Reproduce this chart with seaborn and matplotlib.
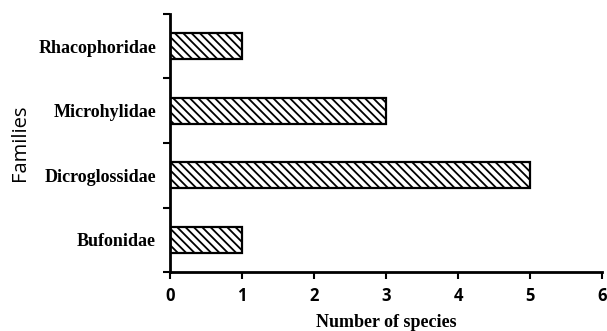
import numpy as np
import pandas as pd
import matplotlib
matplotlib.use("Agg")
import matplotlib.pyplot as plt
import seaborn as sns

families = ["Rhacophoridae", "Microhylidae", "Dicroglossidae", "Bufonidae"]
species = [1, 3, 5, 1]

df = pd.DataFrame({"Family": families, "Species": species})

sns.set_style("white")
plt.rcParams["hatch.linewidth"] = 1.3
plt.rcParams["text.color"] = "black"
plt.rcParams["axes.labelcolor"] = "black"
plt.rcParams["xtick.color"] = "black"
plt.rcParams["ytick.color"] = "black"

fig = plt.figure(figsize=(6.07, 3.31), dpi=100)
ax = fig.add_axes([0.280, 0.178, 0.712, 0.780])

sns.barplot(df, x="Species", y="Family", order=families, color="white",
            edgecolor="black", linewidth=1.6, width=0.4, hatch="\\\\\\\\", ax=ax)

ax.set_xlim(0, 6)
ax.set_ylim(3.5, -0.5)
ax.set_xticks(range(7))
ax.set_xticklabels([str(i) for i in range(7)], fontsize=12, fontweight="bold",
                   family="Open Sans")

# y ticks sit between the bars, labels at the bar centres
ax.set_yticks(np.arange(-0.5, 4, 1.0), minor=True)
ax.set_yticks(range(len(families)))
ax.set_yticklabels(families, fontsize=13, fontweight="bold", family="Liberation Serif")
ax.tick_params(axis="y", which="major", left=True, length=0, pad=10)
ax.tick_params(axis="y", which="minor", left=True, length=5, width=1.5, direction="out")
ax.tick_params(axis="x", bottom=True, length=5, width=1.5, direction="out", pad=6)

for s in ["top", "right"]:
    ax.spines[s].set_visible(False)
for s in ["left", "bottom"]:
    ax.spines[s].set_linewidth(2)
    ax.spines[s].set_color("black")

ax.set_xlabel("Number of species", fontsize=13, fontweight="bold",
              family="Liberation Serif", labelpad=6)
ax.set_ylabel("Families", fontsize=14.5, family="Open Sans", labelpad=6)

fig.savefig("out.png", dpi=100)
